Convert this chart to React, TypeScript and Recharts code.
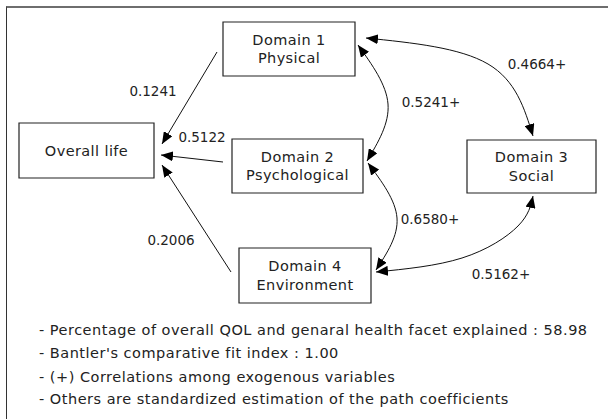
import React from 'react';
import { ScatterChart, Scatter, XAxis, YAxis, ReferenceArea } from 'recharts';

const W = 608;
const H = 419;

// Boxes (variables of the path model)
const boxLabels = [
  ['Overall life'],
  ['Domain 1', 'Physical'],
  ['Domain 2', 'Psychological'],
  ['Domain 3', 'Social'],
  ['Domain 4', 'Environment'],
];
const boxX1 = [19, 223, 232, 467, 239];
const boxX2 = [154, 355, 363, 596, 371];
const boxY1 = [123, 22, 139, 140, 248];
const boxY2 = [178, 76, 193, 193, 303];

// Path coefficients (straight arrows into Overall life)
const pathValues = ['0.1241', '0.5122', '0.2006'];
const pathLabelX = [153, 202, 171];
const pathLabelY = [91, 137, 240];
const pathArrows = [
  [{ x: 217, y: 52 }, { x: 162, y: 144 }],
  [{ x: 223, y: 162 }, { x: 161, y: 155 }],
  [{ x: 231, y: 272 }, { x: 162, y: 165 }],
];

// Correlations (curved double-headed arrows)
const corrValues = ['0.5241+', '0.4664+', '0.6580+', '0.5162+'];
const corrLabelX = [431, 537, 430, 501];
const corrLabelY = [102, 64, 219, 274];
const corrArrows = [
  [{ x: 358, y: 45 }, { x: 388, y: 104 }, { x: 367, y: 161 }],
  [{ x: 366, y: 38 }, { x: 488, y: 64 }, { x: 533, y: 136 }],
  [{ x: 368, y: 163 }, { x: 397, y: 218 }, { x: 376, y: 270 }],
  [{ x: 376, y: 272 }, { x: 462, y: 258 }, { x: 518, y: 226 }, { x: 533, y: 196 }],
];

// Footnotes
const notes = [
  '- Percentage of overall QOL and genaral health facet explained : 58.98',
  "- Bantler's comparative fit index : 1.00",
  '- (+) Correlations among exogenous variables',
  '- Others are standardized estimation of the path coefficients',
];
const noteX = 39;
const noteY = [330, 353, 377, 399];

const FONT = '"DejaVu Sans", sans-serif';
const TEXT = '#222';

const boxTextData = boxLabels.map((lines, i) => ({
  x: (boxX1[i] + boxX2[i]) / 2,
  y: (boxY1[i] + boxY2[i]) / 2,
  lines,
}));
const numberData = [
  ...pathValues.map((label, i) => ({ x: pathLabelX[i], y: pathLabelY[i], label })),
  ...corrValues.map((label, i) => ({ x: corrLabelX[i], y: corrLabelY[i], label })),
];
const noteData = notes.map((label, i) => ({ x: noteX, y: noteY[i], label }));

const Empty = () => <g />;

const BoxText = (props: any) => {
  const { cx, cy, payload } = props;
  const lines: string[] = payload.lines;
  const gap = 18.5;
  const start = cy - ((lines.length - 1) * gap) / 2;
  return (
    <g>
      {lines.map((l, i) => (
        <text key={i} x={cx} y={start + i * gap} dy="0.36em" textAnchor="middle"
          fontFamily={FONT} fontSize={14.5} letterSpacing={0.4} fill={TEXT}>{l}</text>
      ))}
    </g>
  );
};

const NumText = (props: any) => {
  const { cx, cy, payload } = props;
  return (
    <text x={cx} y={cy} dy="0.36em" textAnchor="middle" fontFamily={FONT} fontSize={13.5} fill={TEXT}>
      {payload.label}
    </text>
  );
};

const NoteText = (props: any) => {
  const { cx, cy, payload } = props;
  return (
    <text x={cx} y={cy} dy="0.36em" textAnchor="start" fontFamily={FONT} fontSize={14.5}
      letterSpacing={0.5} fill={TEXT}>
      {payload.label}
    </text>
  );
};

export default function App() {
  return (
    <div style={{ position: 'absolute', left: 0, top: 0, width: W, height: H, background: '#fff' }}>
      <div style={{
        position: 'absolute', left: 6, top: 6, width: W, height: H,
        borderTop: '2px solid #6e6e6e', borderLeft: '1.5px solid #333', boxSizing: 'border-box',
      }} />
      <div style={{ position: 'absolute', left: 0, top: 0 }}>
        <ScatterChart width={W} height={H} margin={{ top: 0, right: 0, bottom: 0, left: 0 }}>
          <defs>
            <marker id="ahEnd" viewBox="0 0 12 10" markerWidth={12} markerHeight={10} refX={12} refY={5}
              orient="auto" markerUnits="userSpaceOnUse">
              <path d="M0,0 L12,5 L0,10 z" fill="#000" />
            </marker>
            <marker id="ahStart" viewBox="0 0 12 10" markerWidth={12} markerHeight={10} refX={12} refY={5}
              orient="auto-start-reverse" markerUnits="userSpaceOnUse">
              <path d="M0,0 L12,5 L0,10 z" fill="#000" />
            </marker>
          </defs>
          <XAxis type="number" dataKey="x" domain={[0, W]} allowDataOverflow hide />
          <YAxis type="number" dataKey="y" domain={[0, H]} allowDataOverflow reversed hide />
          {boxLabels.map((_, i) => (
            <ReferenceArea key={'b' + i} x1={boxX1[i]} x2={boxX2[i]} y1={boxY1[i]} y2={boxY2[i]}
              fill="#fff" fillOpacity={1} stroke="#222" strokeWidth={1.2} ifOverflow="visible" />
          ))}
          {pathArrows.map((pts, i) => (
            <Scatter key={'p' + i} data={pts} fill="#111" isAnimationActive={false}
              line={{ stroke: '#111', strokeWidth: 1, markerEnd: 'url(#ahEnd)' }}
              lineJointType="linear" shape={Empty} />
          ))}
          {corrArrows.map((pts, i) => (
            <Scatter key={'c' + i} data={pts} fill="#111" isAnimationActive={false}
              line={{ stroke: '#111', strokeWidth: 1, markerEnd: 'url(#ahEnd)', markerStart: 'url(#ahStart)' }}
              lineJointType="natural" shape={Empty} />
          ))}
          <Scatter data={boxTextData} isAnimationActive={false} shape={BoxText} />
          <Scatter data={numberData} isAnimationActive={false} shape={NumText} />
          <Scatter data={noteData} isAnimationActive={false} shape={NoteText} />
        </ScatterChart>
      </div>
    </div>
  );
}
